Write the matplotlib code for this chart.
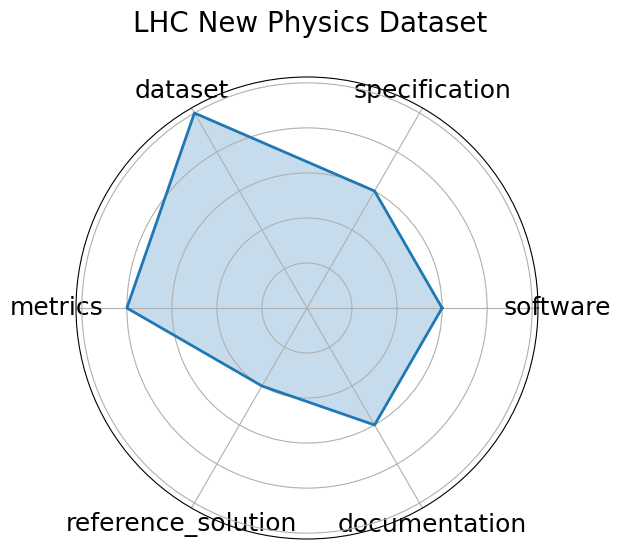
import numpy as np
import matplotlib
matplotlib.use("Agg")
import matplotlib.pyplot as plt

categories = ["software", "specification", "dataset", "metrics", "reference_solution", "documentation"]
values = [3, 3, 5, 4, 2, 3]
title = "LHC New Physics Dataset"

n = len(categories)
angles = np.linspace(0, 2 * np.pi, n, endpoint=False).tolist()
vals = values + values[:1]
angs = angles + angles[:1]

fig = plt.figure(figsize=(6.21, 5.49), dpi=100)
ax = fig.add_axes([76 / 621, 10 / 549, 462 / 621, 462 / 549], polar=True)
ax.plot(angs, vals, color="#1f77b4", linewidth=2)
ax.fill(angs, vals, color="#1f77b4", alpha=0.25)
ax.set_xticks(angles)
ax.set_xticklabels(categories, fontsize=18)
ax.set_yticks([1, 2, 3, 4, 5])
ax.set_yticklabels([])
ax.set_ylim(0, 5.13)
fig.suptitle(title, fontsize=20, y=0.982)
fig.savefig("out.png", dpi=100)
